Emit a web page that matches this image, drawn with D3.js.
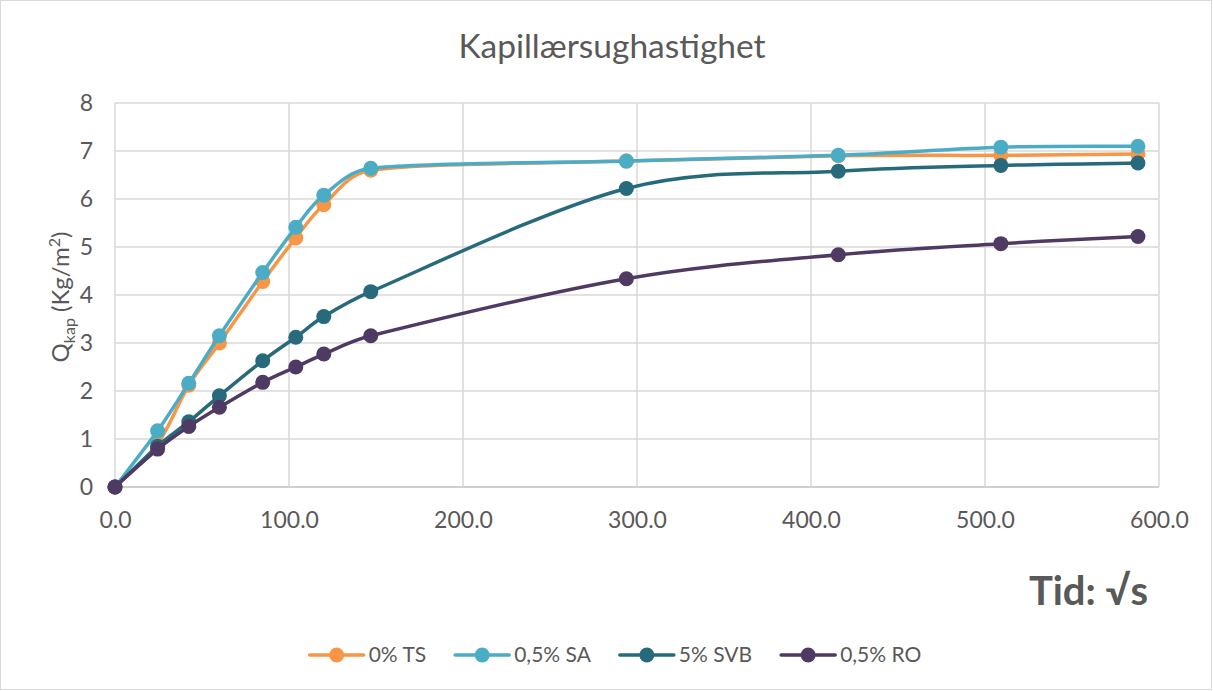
<!DOCTYPE html>
<html>
<head>
<meta charset="utf-8">
<script src="https://cdn.jsdelivr.net/npm/d3@7/dist/d3.min.js"></script>
<style>
  html, body { margin: 0; padding: 0; background: #fff; }
  svg { display: block; font-family: Lato, "Open Sans", sans-serif; }
</style>
</head>
<body>
<svg id="chart" width="1213" height="691"></svg>
<script>
// Time axis: square root of elapsed seconds
const tid = [0, 24.5, 42.4, 60.0, 84.9, 103.9, 120.0, 147.0, 293.9, 415.7, 509.1, 587.9];

// Capillary uptake Q_kap (kg/m²) per mix
const ts0   = [0, 0.90, 2.12, 3.00, 4.28, 5.19, 5.88, 6.60, 6.79, 6.90, 6.91, 6.94];
const sa05  = [0, 1.17, 2.16, 3.15, 4.47, 5.41, 6.08, 6.64, 6.79, 6.91, 7.08, 7.10];
const svb5  = [0, 0.85, 1.36, 1.90, 2.63, 3.12, 3.55, 4.07, 6.22, 6.58, 6.70, 6.75];
const ro05  = [0, 0.79, 1.26, 1.66, 2.18, 2.50, 2.77, 3.15, 4.34, 4.84, 5.07, 5.22];

const seriesNames = ["0% TS", "0,5% SA", "5% SVB", "0,5% RO"];
const seriesValues = [ts0, sa05, svb5, ro05];
const seriesColors = ["#F79646", "#4BACC6", "#276A7C", "#4E3A63"];

const xTicks = [0, 100, 200, 300, 400, 500, 600];
const yTicks = [0, 1, 2, 3, 4, 5, 6, 7, 8];

// Smoothed line: cubic Bézier segments with Catmull-Rom tangents (1/6 of the
// neighbour chord), each handle capped to a share of its own segment so that
// short segments next to long ones do not loop back.
function curveSmoothCapped(context) {
  let pts;
  return {
    areaStart() {}, areaEnd() {},
    lineStart() { pts = []; },
    point(px, py) { pts.push([+px, +py]); },
    lineEnd() {
      const n = pts.length;
      if (!n) return;
      context.moveTo(pts[0][0], pts[0][1]);
      if (n === 1) return;
      const tan = pts.map((p, i) => {
        const a = pts[Math.max(0, i - 1)], b = pts[Math.min(n - 1, i + 1)];
        return [(b[0] - a[0]) / 6, (b[1] - a[1]) / 6];
      });
      const cap = (v, maxLen) => {
        const l = Math.hypot(v[0], v[1]);
        if (l <= maxLen || l === 0) return v;
        return [v[0] * maxLen / l, v[1] * maxLen / l];
      };
      for (let i = 0; i < n - 1; i++) {
        const p0 = pts[i], p1 = pts[i + 1];
        const L = Math.hypot(p1[0] - p0[0], p1[1] - p0[1]);
        const t0 = cap(tan[i], 0.4 * L), t1 = cap(tan[i + 1], 0.4 * L);
        context.bezierCurveTo(p0[0] + t0[0], p0[1] + t0[1],
                              p1[0] - t1[0], p1[1] - t1[1],
                              p1[0], p1[1]);
      }
    }
  };
}

const svg = d3.select("#chart");
const W = 1213, H = 691;
const textColor = "#595959";

// chart frame
svg.append("rect")
  .attr("x", 0.5).attr("y", 0.5)
  .attr("width", W - 2).attr("height", H - 2)
  .attr("fill", "#fff").attr("stroke", "#D9D9D9").attr("stroke-width", 1);

const plot = { left: 115, right: 1159, top: 103, bottom: 487 };

const x = d3.scaleLinear().domain([0, 600]).range([plot.left, plot.right]);
const y = d3.scaleLinear().domain([0, 8]).range([plot.bottom, plot.top]);

// gridlines
const grid = svg.append("g");
grid.selectAll("line.h").data(yTicks).join("line")
  .attr("x1", plot.left).attr("x2", plot.right)
  .attr("y1", d => y(d)).attr("y2", d => y(d))
  .attr("stroke", d => d === 0 ? "#BFBFBF" : "#D9D9D9")
  .attr("stroke-width", 1.5);
grid.selectAll("line.v").data(xTicks).join("line")
  .attr("y1", plot.top).attr("y2", plot.bottom)
  .attr("x1", d => x(d)).attr("x2", d => x(d))
  .attr("stroke", "#D9D9D9")
  .attr("stroke-width", 1.5);

// axes (labels only)
const yAxis = d3.axisLeft(y).tickValues(yTicks).tickSize(0).tickPadding(22)
  .tickFormat(d3.format("d"));
const gy = svg.append("g").attr("transform", `translate(${plot.left},0)`).call(yAxis);
gy.select(".domain").remove();
gy.selectAll("text").attr("fill", textColor).style("font-size", "23px")
  .style("font-family", "Lato, sans-serif");

const xAxis = d3.axisBottom(x).tickValues(xTicks).tickSize(0).tickPadding(25)
  .tickFormat(d3.format(".1f"));
const gx = svg.append("g").attr("transform", `translate(0,${plot.bottom})`).call(xAxis);
gx.select(".domain").remove();
gx.selectAll("text").attr("fill", textColor).style("font-size", "23px")
  .style("font-family", "Lato, sans-serif");

// title
svg.append("text")
  .attr("x", 612).attr("y", 58)
  .attr("text-anchor", "middle")
  .attr("fill", textColor)
  .style("font-size", "33.5px")
  .text("Kapillærsughastighet");

// y-axis title
const yt = svg.append("text")
  .attr("transform", "translate(69,297) rotate(-90)")
  .attr("text-anchor", "middle")
  .attr("fill", textColor)
  .style("font-size", "24px");
yt.append("tspan").text("Q");
yt.append("tspan").attr("dy", 6).style("font-size", "16px").text("kap");
yt.append("tspan").attr("dy", -6).text(" (Kg/m");
yt.append("tspan").attr("dy", -9).style("font-size", "16px").text("2");
yt.append("tspan").attr("dy", 9).text(")");

// x-axis title
svg.append("text")
  .attr("x", 1148).attr("y", 605)
  .attr("text-anchor", "end")
  .attr("fill", textColor)
  .style("font-size", "40px")
  .style("font-weight", "bold")
  .text("Tid: \u221As");

// series
const line = d3.line()
  .x(d => x(d[0]))
  .y(d => y(d[1]))
  .curve(curveSmoothCapped);

const seriesG = svg.append("g");
seriesValues.forEach((vals, i) => {
  const pts = tid.map((t, j) => [t, vals[j]]);
  const g = seriesG.append("g");
  g.append("path")
    .attr("d", line(pts))
    .attr("fill", "none")
    .attr("stroke", seriesColors[i])
    .attr("stroke-width", 3.5)
    .attr("stroke-linejoin", "round");
  g.selectAll("circle").data(pts).join("circle")
    .attr("cx", d => x(d[0]))
    .attr("cy", d => y(d[1]))
    .attr("r", 7.5)
    .attr("fill", seriesColors[i]);
});

// legend: line sample with marker, then label; items laid out left to right
const legend = svg.append("g");
const legendY = 655, sampleW = 54, labelGap = 5, itemGap = 29;
const items = seriesNames.map((name, i) => {
  const g = legend.append("g");
  g.append("line").attr("x1", 0).attr("x2", sampleW).attr("y1", 0).attr("y2", 0)
    .attr("stroke", seriesColors[i]).attr("stroke-width", 3.5).attr("stroke-linecap", "round");
  g.append("circle").attr("cx", sampleW / 2).attr("cy", 0).attr("r", 7.5).attr("fill", seriesColors[i]);
  const t = g.append("text").attr("x", sampleW + labelGap).attr("y", 0).attr("dy", "0.35em")
    .attr("fill", textColor).style("font-size", "21px").text(name);
  return { g, w: sampleW + labelGap + t.node().getComputedTextLength() };
});
const total = d3.sum(items, d => d.w) + itemGap * (items.length - 1);
let cx = 615.5 - total / 2;
items.forEach(it => {
  it.g.attr("transform", `translate(${cx},${legendY})`);
  cx += it.w + itemGap;
});
</script>
</body>
</html>
